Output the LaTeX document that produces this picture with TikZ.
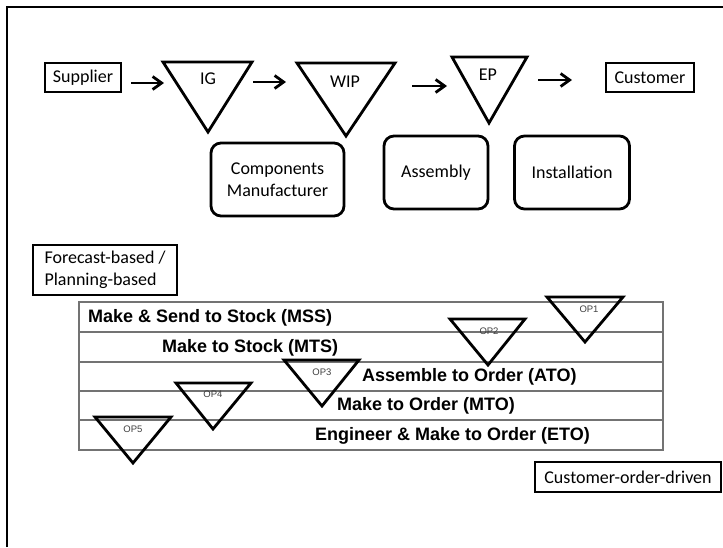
\documentclass[tikz,border=0pt]{standalone}
\usepackage{fontspec}
\setmainfont{Carlito}
\newfontfamily\tabfont{Liberation Sans}
\usetikzlibrary{arrows.meta}

\begin{document}
\begin{tikzpicture}[x=1pt,y=-1pt,
  cal/.style={font=\fontsize{18}{22}\selectfont},
  boxed/.style={draw, line width=2.8pt, inner sep=0pt, cal, align=center},
  rbox/.style={boxed, rounded corners=10pt},
  flow/.style={line width=2.8pt, -{Straight Barb[length=9pt,width=13pt]}},
  tri/.style={line width=2.8pt, line join=miter},
  row/.style={draw=black!55, line width=1.1pt},
  rowtxt/.style={font=\tabfont\bfseries\fontsize{18}{20}\selectfont, anchor=west, inner sep=0pt},
  optxt/.style={font=\tabfont\fontsize{9.5}{11}\selectfont, text=black!75, inner sep=0pt},
  tritxt/.style={cal, inner sep=0pt}
]
\useasboundingbox (0,0) rectangle (723,547);

% outer frame (only left and top edges fall inside the page)
\draw[line width=2.8pt] (7,547) -- (7,7) -- (723,7);

% ---------- material flow ----------
\node[boxed, minimum width=76pt, minimum height=29pt] (sup) at (83,77.5) {Supplier};
\node[boxed, minimum width=88pt, minimum height=29pt] (cus) at (650,77.5) {Customer};

% stock points
\draw[tri] (163,62) -- (252,62) -- (208,132) -- cycle;
\node[tritxt] (ig) at (208,79) {IG};
\draw[tri] (297,63) -- (395,63) -- (346,136) -- cycle;
\node[tritxt] (wip) at (345,82) {WIP};
\draw[tri] (452,57) -- (527,57) -- (489,123) -- cycle;
\node[tritxt] (ep) at (488,75) {EP};

% flow arrows
\coordinate (a1s) at (131,83);  \coordinate (a1e) at (164,83);
\coordinate (a2s) at (253,82);  \coordinate (a2e) at (286,82);
\coordinate (a3s) at (412,86);  \coordinate (a3e) at (447,86);
\coordinate (a4s) at (538,80);  \coordinate (a4e) at (572,80);
\draw[flow] (a1s) -- (a1e);
\draw[flow] (a2s) -- (a2e);
\draw[flow] (a3s) -- (a3e);
\draw[flow] (a4s) -- (a4e);

% processes
\node[rbox, minimum width=133pt, minimum height=73pt] (comp) at (277.5,179.5) {Components\\Manufacturer};
\node[rbox, minimum width=104pt, minimum height=73pt] (asm) at (436,172.5) {Assembly};
\node[rbox, minimum width=115pt, minimum height=73pt] (inst) at (572,172.5) {Installation};

% ---------- order penetration points ----------
\node[boxed, minimum width=144pt, minimum height=50pt, align=left] (fc) at (105,270)
  {Forecast-based /\\Planning-based};
\node[boxed, minimum width=186pt, minimum height=30pt] (cod) at (628,477) {Customer-order-driven};

% strategy rows
\draw[row] (79,302) rectangle (663,450);
\foreach \yy in {332,362,391,420} \draw[row] (79,\yy) -- (663,\yy);

\node[rowtxt] (mss) at (88,318) {Make \& Send to Stock (MSS)};
\node[rowtxt] (mts) at (162,348) {Make to Stock (MTS)};
\node[rowtxt] (ato) at (362,377) {Assemble to Order (ATO)};
\node[rowtxt] (mto) at (337,406) {Make to Order (MTO)};
\node[rowtxt] (eto) at (315,436) {Engineer \& Make to Order (ETO)};

% decoupling triangles
\draw[tri] (547,297) -- (623,297) -- (585,342) -- cycle;
\node[optxt] (op1) at (589,309) {OP1};
\draw[tri] (450,319) -- (525,319) -- (488,365) -- cycle;
\node[optxt] (op2) at (489,331) {OP2};
\draw[tri] (284,360) -- (359,360) -- (322,406) -- cycle;
\node[optxt] (op3) at (322,372) {OP3};
\draw[tri] (176,383) -- (251,383) -- (213,429) -- cycle;
\node[optxt] (op4) at (213,394) {OP4};
\draw[tri] (95,417) -- (171,417) -- (133,463) -- cycle;
\node[optxt] (op5) at (133,429) {OP5};
\end{tikzpicture}
\end{document}
